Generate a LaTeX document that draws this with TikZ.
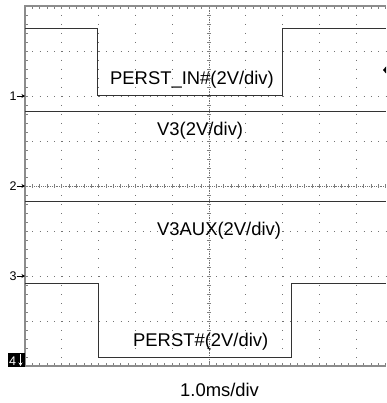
\documentclass[tikz,border=0pt]{standalone}
\usepackage{fontspec}
\setmainfont{Liberation Sans}
\usetikzlibrary{arrows.meta}
\begin{document}
\begin{tikzpicture}[x=1pt,y=-1pt]
\tikzset{
  griddot/.style={draw=black!55, line width=0.9pt},
  frameline/.style={draw=black!45, line width=1.3pt},
  tickline/.style={draw=black!50, line width=0.7pt},
  trace/.style={draw=black!80, line width=0.95pt},
  lab/.style={font=\fontsize{18.4}{20}\selectfont, inner sep=0pt, anchor=base west},
  chnum/.style={font=\fontsize{12.5}{13}\selectfont, inner sep=0pt, anchor=base west},
  charrow/.style={draw=black, line width=0.9pt, -{Stealth[length=3.5pt,width=4pt]}},
}
\useasboundingbox (0,0) rectangle (386,403);
\fill[white] (0,0) rectangle (386,403);
% grid
\foreach \k in {1,2,3,5,6,7}
  \draw[griddot, dash pattern=on 0.9pt off 6.46pt] (25,{6+45*\k}) -- (386,{6+45*\k});
\foreach \k in {1,2,3,4,6,7,8,9}
  \draw[griddot, dash pattern=on 0.9pt off 8.1pt] ({25+36.8*\k},6) -- ({25+36.8*\k},366);
% center axes
\draw[griddot, dash pattern=on 0.9pt off 0.9pt] (25,186) -- (386,186);
\draw[griddot, dash pattern=on 0.9pt off 0.9pt] (209,6) -- (209,366);
\foreach \i in {0,...,49}
  \draw[tickline] ({25+7.36*\i},184) -- ++(0,4);
\foreach \i in {0,...,40}
  \draw[tickline] (207,{6+9*\i}) -- ++(4,0);
% border ticks
\foreach \i in {0,...,49} {
  \draw[tickline] ({25+7.36*\i},6) -- ++(0,3.5);
  \draw[tickline] ({25+7.36*\i},366) -- ++(0,-3.5);
}
\foreach \i in {0,...,40}
  \draw[tickline] (25,{6+9*\i}) -- ++(3,0);
% frame
\draw[frameline] (386,6) -- (25,6) -- (25,366) -- (386,366);
% traces
\draw[trace] (25,28.3) -- (97.5,28.3) -- (97.5,95) -- (282,95) -- (282,28.3) -- (386,28.3);
\draw[trace] (25,111) -- (386,111);
\draw[trace] (25,201) -- (386,201);
\draw[trace] (25,283) -- (98.5,283) -- (98.5,357) -- (291,357) -- (291,283) -- (386,283);
% trigger marker
\fill[black] (386,66.5) -- (383,70) -- (386,73.5) -- cycle;
% channel markers
\node[chnum] (c1) at (9.5,100.8) {1};
\draw[charrow] (16.5,96) -- (25,96);
\node[chnum] (c2) at (9.5,190.5) {2};
\draw[charrow] (16.5,186) -- (25,186);
\node[chnum] (c3) at (9.5,280.8) {3};
\draw[charrow] (16.5,276) -- (25,276);
\fill[black] (8,353) rectangle (25,367);
\node[chnum, text=white] (c4) at (9,365.8) {4};
\draw[charrow, draw=white] (20.5,354) -- (20.5,366);
% labels
\node[lab] (l1) at (110,85) {PERST\_IN\#(2V/div)};
\node[lab] (l2) at (157,136) {V3(2V/div)};
\node[lab] (l3) at (157,235) {V3AUX(2V/div)};
\node[lab] (l4) at (133,346.5) {PERST\#(2V/div)};
\node[lab] (l5) at (180,396) {1.0ms/div};
\end{tikzpicture}
\end{document}
